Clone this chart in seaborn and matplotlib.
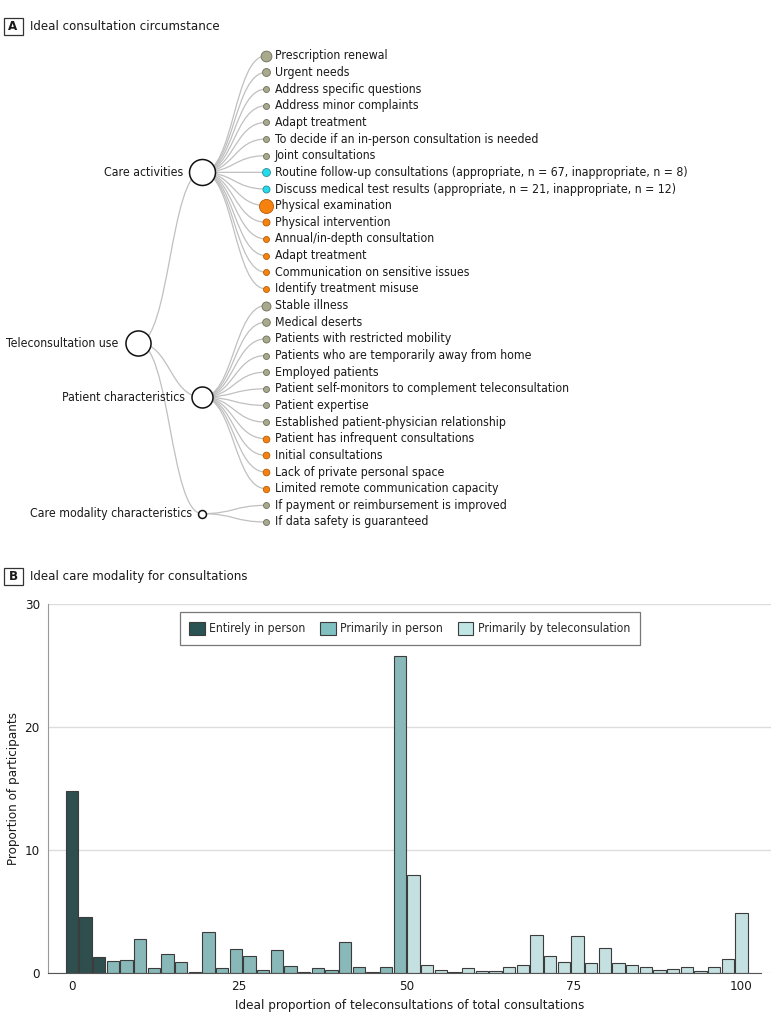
"""
Teleconsultation figure: (A) tree of ideal consultation circumstances,
(B) histogram of ideal care modality for consultations.
"""

import numpy as np
import pandas as pd
import matplotlib
matplotlib.use('Agg')
import matplotlib.pyplot as plt
from matplotlib import font_manager as fm
from matplotlib.path import Path
from matplotlib.patches import PathPatch, Patch, Rectangle
import seaborn as sns

sns.set_style('white')

# the original uses a narrow sans; take the narrowest one that is installed
installed = {(f.name, str(f.stretch)) for f in fm.fontManager.ttflist}
if any(n == 'Liberation Sans Narrow' for n, _ in installed):
    plt.rcParams['font.family'] = ['Liberation Sans Narrow', 'DejaVu Sans']
    FONT_SCALE = 1.0
elif any(n == 'DejaVu Sans' and 'condensed' in s for n, s in installed):
    plt.rcParams['font.family'] = ['DejaVu Sans']
    plt.rcParams['font.stretch'] = 'condensed'
    FONT_SCALE = 0.93
else:
    plt.rcParams['font.family'] = ['Roboto', 'DejaVu Sans']
    FONT_SCALE = 0.91

# ---------------- Panel A data ----------------
root_label = 'Teleconsultation use'
group_labels = ['Care activities', 'Patient characteristics', 'Care modality characteristics']
group_weight = [75, 49, 7]
root_weight = 70

care_activities = [
    'Prescription renewal', 'Urgent needs', 'Address specific questions',
    'Address minor complaints', 'Adapt treatment',
    'To decide if an in-person consultation is needed', 'Joint consultations',
    'Routine follow-up consultations (appropriate, n = 67, inappropriate, n = 8)',
    'Discuss medical test results (appropriate, n = 21, inappropriate, n = 12)',
    'Physical examination', 'Physical intervention', 'Annual/in-depth consultation',
    'Adapt treatment', 'Communication on sensitive issues', 'Identify treatment misuse',
]
care_activity_kind = ['tele'] * 7 + ['mixed'] * 2 + ['inperson'] * 6
care_activity_weight = [13, 7, 4, 4, 4, 4, 4, 7, 5.5, 22, 5.5, 4, 4, 4, 4]

patient_chars = [
    'Stable illness', 'Medical deserts', 'Patients with restricted mobility',
    'Patients who are temporarily away from home', 'Employed patients',
    'Patient self-monitors to complement teleconsultation', 'Patient expertise',
    'Established patient-physician relationship', 'Patient has infrequent consultations',
    'Initial consultations', 'Lack of private personal space',
    'Limited remote communication capacity',
]
patient_kind = ['tele'] * 8 + ['inperson'] * 4
patient_weight = [9, 6.5, 5.5, 4, 4, 4, 4, 4, 5, 5, 5, 4.5]

modality_chars = ['If payment or reimbursement is improved', 'If data safety is guaranteed']
modality_kind = ['tele', 'tele']
modality_weight = [4, 4]

# ---------------- Panel B data ----------------
tele_share = np.round(np.arange(50) * 100 / 49, 2)  # bin centres, % of consultations
participants = [
    14.8, 4.6, 1.3, 1.0, 1.08, 2.8, 0.4, 1.57, 0.9, 0.08,
    3.33, 0.4, 1.95, 1.44, 0.24, 1.87, 0.6, 0.1, 0.4, 0.24,
    2.52, 0.49, 0.08, 0.51, 25.8, 7.97, 0.7, 0.24, 0.08, 0.46,
    0.16, 0.16, 0.54, 0.65, 3.09, 1.38, 0.95, 3.0, 0.81, 2.03,
    0.81, 0.7, 0.54, 0.27, 0.33, 0.51, 0.16, 0.49, 1.17, 4.88,
]
modality_order = ['Entirely in person', 'Primarily in person', 'Primarily by teleconsulation']
modality = [modality_order[0]] * 3 + [modality_order[1]] * 22 + [modality_order[2]] * 25

# ---------------- styles ----------------
kind_face = {'tele': '#a9a98e', 'mixed': '#22dcec', 'inperson': '#f5820f'}
kind_edge = {'tele': '#6e6e58', 'mixed': '#2a8d98', 'inperson': '#b85c05'}
bar_palette = dict(zip(modality_order, ['#2a5453', '#80c0c0', '#c0e5e5']))
link_color = '#c0c0c0'
text_color = '#1a1a1a'
fs_leaf = 9.5 * FONT_SCALE
fs_title = 10.2 * FONT_SCALE
fs_axis = 10.4 * FONT_SCALE
fs_legend = 9.4 * FONT_SCALE

W, H = 780, 1025
fig = plt.figure(figsize=(W / 100, H / 100), dpi=100)

# overlay axes in pixel units for panel A and panel headers
ax_a = fig.add_axes([0, 0, 1, 1])
ax_a.set_xlim(0, W)
ax_a.set_ylim(H, 0)
ax_a.axis('off')
ax_a.patch.set_alpha(0)


def radius(w):
    return 1.5 * np.sqrt(w)


def link(ax, x0, y0, x1, y1):
    xm = (x0 + x1) / 2
    verts = [(x0, y0), (xm, y0), (xm, y1), (x1, y1)]
    codes = [Path.MOVETO, Path.CURVE4, Path.CURVE4, Path.CURVE4]
    ax.add_patch(PathPatch(Path(verts, codes), fc='none', ec=link_color, lw=0.9, zorder=1))


def node(ax, x, y, r, fc, ec, lw):
    s = (2 * r * 0.72) ** 2
    ax.scatter([x], [y], s=s, c=fc, edgecolors=ec, linewidths=lw, zorder=3)


# cluster layout: leaves evenly spaced, parents centred on their children
leaf_top, leaf_step = 55.8, 16.65
depth_x = [138, 202, 266]
groups = [
    (care_activities, care_activity_kind, care_activity_weight),
    (patient_chars, patient_kind, patient_weight),
    (modality_chars, modality_kind, modality_weight),
]

group_y = []
i = 0
for g, (labels, kinds, weights) in enumerate(groups):
    ys = [leaf_top + (i + k) * leaf_step for k in range(len(labels))]
    i += len(labels)
    gy = (ys[0] + ys[-1]) / 2
    group_y.append(gy)
    for lab, kind, w, y in zip(labels, kinds, weights, ys):
        link(ax_a, depth_x[1], gy, depth_x[2], y)
        node(ax_a, depth_x[2], y, radius(w), kind_face[kind], kind_edge[kind], 0.6)
        ax_a.text(depth_x[2] + 9, y, lab, ha='left', va='center', fontsize=fs_leaf, color=text_color)

root_y = (group_y[0] + group_y[-1]) / 2
for lab, w, gy in zip(group_labels, group_weight, group_y):
    link(ax_a, depth_x[0], root_y, depth_x[1], gy)
    r = radius(w)
    node(ax_a, depth_x[1], gy, r, 'white', '#111111', 1.1)
    ax_a.text(depth_x[1] - r - 6, gy, lab, ha='right', va='center', fontsize=fs_leaf, color=text_color)

r = radius(root_weight)
node(ax_a, depth_x[0], root_y, r, 'white', '#111111', 1.1)
ax_a.text(depth_x[0] - r - 7, root_y, root_label, ha='right', va='center', fontsize=fs_leaf,
          color=text_color)

# panel headers
for letter, title, yc in [('A', 'Ideal consultation circumstance', 26.5),
                          ('B', 'Ideal care modality for consultations', 576.5)]:
    ax_a.add_patch(Rectangle((3.5, yc - 8.5), 19, 17, fc='white', ec='#333333', lw=0.9))
    ax_a.text(13, yc + 0.5, letter, ha='center', va='center', fontsize=9.5,
              fontweight='bold', color=text_color)
    ax_a.text(30, yc, title, ha='left', va='center', fontsize=fs_title, color=text_color)

# ---------------- Panel B ----------------
df = pd.DataFrame({'tele_share': tele_share, 'participants': participants, 'modality': modality})

ax_b = fig.add_axes([48.3 / W, (H - 973.3) / H, (771 - 48.3) / W, 369 / H])
sns.barplot(data=df, x='tele_share', y='participants', hue='modality',
            hue_order=modality_order, palette=bar_palette, native_scale=True,
            dodge=False, width=0.9, edgecolor='#3c3c3c', linewidth=0.8,
            legend=False, ax=ax_b)

ax_b.set_xlim(-3.5, 104.4)
ax_b.set_ylim(0, 30)
ax_b.set_xticks([0, 25, 50, 75, 100])
ax_b.set_yticks([0, 10, 20, 30])
ax_b.yaxis.grid(True, color='#dddddd', lw=1)
ax_b.set_axisbelow(True)
for side in ['top', 'right']:
    ax_b.spines[side].set_visible(False)
ax_b.spines['left'].set_color('#999999')
ax_b.spines['bottom'].set_color('#555555')
ax_b.spines['bottom'].set_bounds(-3.5, 102.9)
ax_b.tick_params(axis='y', length=4, color='#999999', labelsize=fs_axis, labelcolor=text_color, pad=2)
ax_b.tick_params(axis='x', length=4, color='#555555', labelsize=fs_axis, labelcolor=text_color, pad=1)
ax_b.set_xlabel('Ideal proportion of teleconsultations of total consultations',
                fontsize=fs_axis, color=text_color, labelpad=4)
ax_b.set_ylabel('Proportion of participants', fontsize=fs_axis, color=text_color, labelpad=3)

handles = [Patch(facecolor=bar_palette[m], edgecolor='#3c3c3c', lw=0.8, label=m) for m in modality_order]
leg = ax_b.legend(handles=handles, loc='upper center', bbox_to_anchor=(0.5, 0.979),
                  borderaxespad=0, ncol=3, fontsize=fs_legend, frameon=True, fancybox=False,
                  framealpha=1, edgecolor='#777777', handlelength=1.3, handleheight=1.3,
                  columnspacing=1.2, handletextpad=0.35, borderpad=0.8)
leg.get_frame().set_linewidth(0.9)

fig.savefig('out.png', dpi=100)
